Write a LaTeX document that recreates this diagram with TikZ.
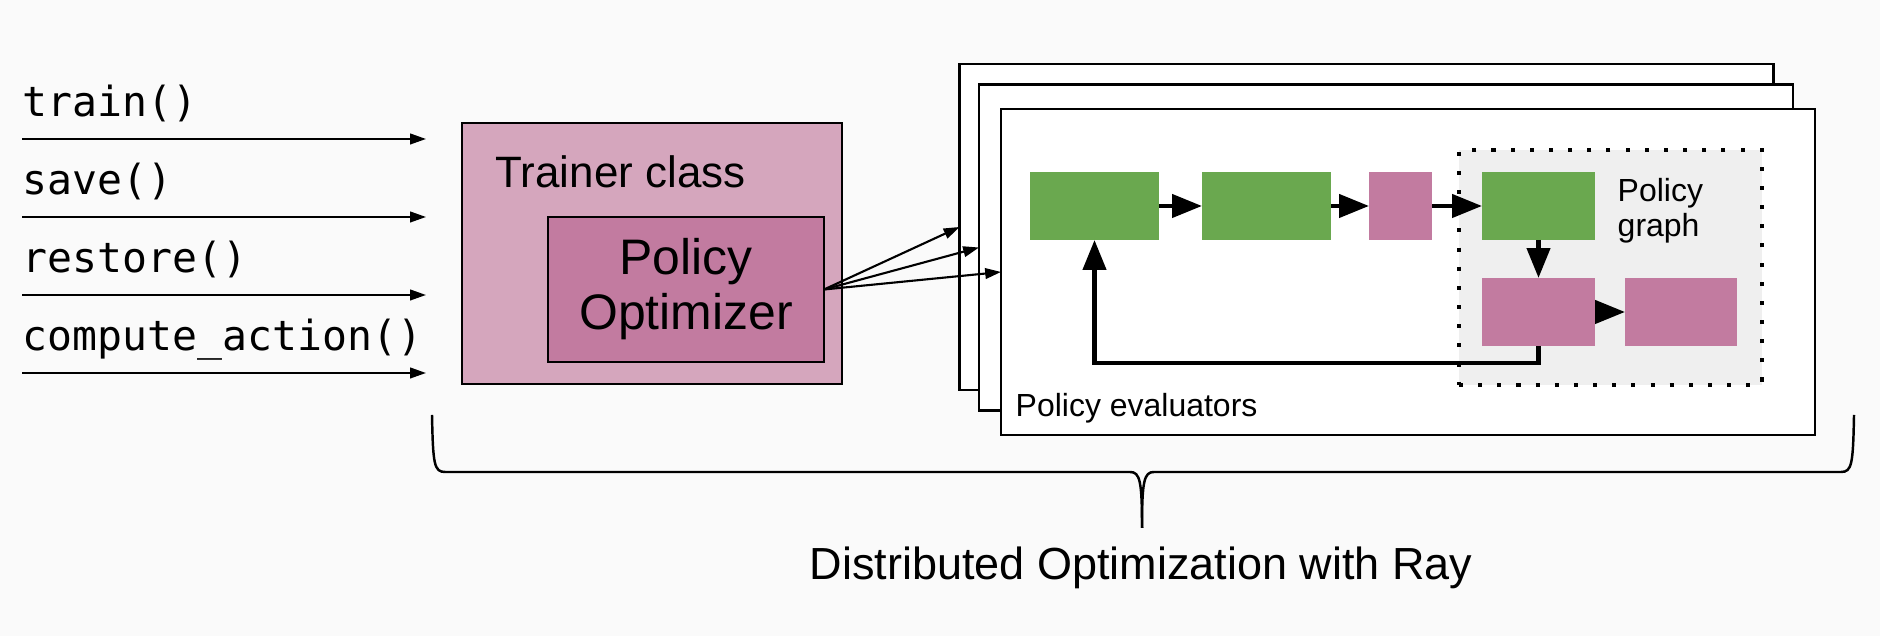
\documentclass[tikz,border=0pt]{standalone}
\usepackage{fontspec}
\setmainfont{Liberation Sans}
\setmonofont{DejaVu Sans Mono}
\usepackage{xcolor}
\usetikzlibrary{
    arrows.meta,
    positioning
}
\definecolor{bgpaper}{HTML}{FAFAFA}
\definecolor{trainerpink}{HTML}{D5A6BD}
\definecolor{optpink}{HTML}{C27BA0}
\definecolor{blockgreen}{HTML}{6AA84F}
\definecolor{graphgray}{HTML}{EFEFEF}
\tikzset{
    box/.style={draw, line width=0.7pt, inner sep=0pt, outer sep=0pt},
    block/.style={inner sep=0pt, outer sep=0pt, minimum height=0.68cm},
    flow/.style={line width=1.3pt, -{Triangle[length=8.5pt, width=6.5pt]}},
    call/.style={line width=0.6pt, -{Triangle[length=4.5pt, width=3pt]}},
    calltext/.style={inner sep=0pt, anchor=base west, font=\ttfamily\fontsize{11.8}{13}\selectfont}
}

\begin{document}
\begin{tikzpicture}
    \fill[bgpaper] (0, 0) rectangle (18.8, 6.36);
    \useasboundingbox (0, 0) rectangle (18.8, 6.36);
    % calls into the trainer
    \foreach \lbl [count=\i] in {train(), save(), restore(), compute\_action()} {
        \node[calltext] (call\i) at (0.22, 5.97 - 0.78 * \i) {\lbl};
        \coordinate (from\i) at (0.22, 5.75 - 0.78 * \i);
        \coordinate (to\i) at (4.26, 5.75 - 0.78 * \i);
        \draw[call] (from\i) -- (to\i);
    }
    % trainer
    \node[box, fill=trainerpink, minimum width=3.8cm, minimum height=2.61cm] (trainer) at (6.52, 3.825) {};
    \node[anchor=base west, inner sep=0pt, font=\fontsize{12.5}{14}\selectfont] (trainerlabel) at (4.95, 4.48) {Trainer class};
    \node[box, fill=optpink, minimum width=2.76cm, minimum height=1.45cm, align=center,
          font=\fontsize{14.2}{15.6}\selectfont] (opt) at (6.86, 3.465) {Policy\\Optimizer};
    % evaluators
    \foreach \pg/\x/\y in {A/13.665/4.09, B/13.86/3.885, C/14.08/3.64} {
        \node[box, fill=white, minimum width=8.14cm, minimum height=3.26cm] (page\pg) at (\x, \y) {};
    }
    \node[anchor=base west, inner sep=0pt, font=\fontsize{9.1}{10}\selectfont] (evallabel) at (10.15, 2.19) {Policy evaluators};
    \foreach \pg in {A, B, C} {
        \draw[call] (opt.east) -- (page\pg.west);
    }
    % policy graph
    \node[fill=graphgray, draw, line width=1.15pt, dash pattern=on 1.15pt off 4.3pt,
          minimum width=3.03cm, minimum height=2.35cm, inner sep=0pt] (graph) at (16.105, 3.685) {};
    \node[anchor=base west, inner sep=0pt, align=left, font=\fontsize{9.1}{10}\selectfont] (graphlabel) at (16.17, 3.99) {Policy\\graph};
    \node[block, fill=blockgreen, minimum width=1.29cm] (g1) at (10.945, 4.30) {};
    \node[block, fill=blockgreen, minimum width=1.29cm, right=0.43 of g1] (g2) {};
    \node[block, fill=optpink, minimum width=0.63cm, right=0.38 of g2] (p3) {};
    \node[block, fill=blockgreen, minimum width=1.13cm, right=0.5 of p3] (g3) {};
    \node[block, fill=optpink, minimum width=1.13cm, below=0.38 of g3] (p4) {};
    \node[block, fill=optpink, minimum width=1.12cm, right=0.3 of p4] (p5) {};
    \draw[flow] (g1) -- (g2);
    \draw[flow] (g2) -- (p3);
    \draw[flow] (p3) -- (g3);
    \draw[flow] (g3) -- (p4);
    \draw[flow] (p4) -- (p5);
    \draw[flow] (p4.south) -- ++(0, -0.17) -| (g1.south);
    % brace
    \coordinate (tip) at (11.42, 1.08);
    \draw[line width=0.7pt] (4.32, 2.21) .. controls (4.33, 1.72) and (4.34, 1.64) .. (4.45, 1.64)
        -- (11.3, 1.64) .. controls (11.4, 1.64) and (11.42, 1.55) .. (tip);
    \draw[line width=0.7pt] (18.54, 2.21) .. controls (18.53, 1.72) and (18.52, 1.64) .. (18.41, 1.64)
        -- (11.54, 1.64) .. controls (11.44, 1.64) and (11.42, 1.55) .. (tip);
    \node[anchor=base, inner sep=0pt, font=\fontsize{12.8}{14}\selectfont] (title) at (11.41, 0.56) {Distributed Optimization with Ray};
\end{tikzpicture}
\end{document}
